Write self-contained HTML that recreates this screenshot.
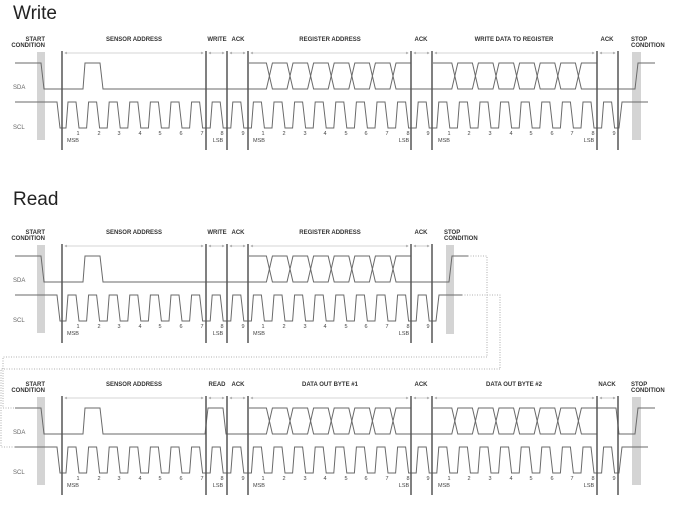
<!DOCTYPE html>
<html><head><meta charset="utf-8"><style>
html,body{margin:0;padding:0;background:#fff;}
svg{display:block;}
.t{font-family:"Liberation Sans",sans-serif;font-size:6px;font-weight:bold;fill:#333;}
.n{font-family:"Liberation Sans",sans-serif;font-size:5.5px;fill:#444;}
.s{font-family:"Liberation Sans",sans-serif;font-size:6px;fill:#666;}
.h{font-family:"Liberation Sans",sans-serif;font-size:19px;fill:#222;}
</style></head><body>
<svg id="g" width="681" height="518" viewBox="0 0 681 518" xmlns="http://www.w3.org/2000/svg">
<g id="d"></g>
<text class="h" x="13" y="19">Write</text>
<text class="h" x="13" y="205">Read</text>

<g transform="translate(0,0)">
<text class="t" x="45" y="41" text-anchor="end">START</text>
<text class="t" x="45" y="47" text-anchor="end">CONDITION</text>
<text class="t" x="134" y="41" text-anchor="middle">SENSOR ADDRESS</text>
<text class="t" x="217" y="41" text-anchor="middle">WRITE</text>
<text class="t" x="238" y="41" text-anchor="middle">ACK</text>
<text class="t" x="330" y="41" text-anchor="middle">REGISTER ADDRESS</text>
<text class="t" x="421" y="41" text-anchor="middle">ACK</text>
<text class="t" x="514" y="41" text-anchor="middle">WRITE DATA TO REGISTER</text>
<text class="t" x="607" y="41" text-anchor="middle">ACK</text>
<text class="t" x="631" y="41">STOP</text>
<text class="t" x="631" y="47">CONDITION</text>
<text class="s" x="13" y="89">SDA</text>
<text class="s" x="13" y="129">SCL</text>
<text class="n" x="78" y="135" text-anchor="middle">1</text><text class="n" x="99" y="135" text-anchor="middle">2</text><text class="n" x="119" y="135" text-anchor="middle">3</text><text class="n" x="140" y="135" text-anchor="middle">4</text><text class="n" x="160" y="135" text-anchor="middle">5</text><text class="n" x="181" y="135" text-anchor="middle">6</text><text class="n" x="202" y="135" text-anchor="middle">7</text><text class="n" x="222" y="135" text-anchor="middle">8</text><text class="n" x="243" y="135" text-anchor="middle">9</text>
<text class="n" x="263" y="135" text-anchor="middle">1</text><text class="n" x="284" y="135" text-anchor="middle">2</text><text class="n" x="305" y="135" text-anchor="middle">3</text><text class="n" x="325" y="135" text-anchor="middle">4</text><text class="n" x="346" y="135" text-anchor="middle">5</text><text class="n" x="366" y="135" text-anchor="middle">6</text><text class="n" x="387" y="135" text-anchor="middle">7</text><text class="n" x="408" y="135" text-anchor="middle">8</text><text class="n" x="428" y="135" text-anchor="middle">9</text>
<text class="n" x="449" y="135" text-anchor="middle">1</text><text class="n" x="469" y="135" text-anchor="middle">2</text><text class="n" x="490" y="135" text-anchor="middle">3</text><text class="n" x="511" y="135" text-anchor="middle">4</text><text class="n" x="531" y="135" text-anchor="middle">5</text><text class="n" x="552" y="135" text-anchor="middle">6</text><text class="n" x="572" y="135" text-anchor="middle">7</text><text class="n" x="593" y="135" text-anchor="middle">8</text><text class="n" x="614" y="135" text-anchor="middle">9</text>
<text class="n" x="73" y="142" text-anchor="middle">MSB</text><text class="n" x="218" y="142" text-anchor="middle">LSB</text>
<text class="n" x="259" y="142" text-anchor="middle">MSB</text><text class="n" x="404" y="142" text-anchor="middle">LSB</text>
<text class="n" x="444" y="142" text-anchor="middle">MSB</text><text class="n" x="589" y="142" text-anchor="middle">LSB</text>
</g>

<g transform="translate(0,193)">
<text class="t" x="45" y="41" text-anchor="end">START</text>
<text class="t" x="45" y="47" text-anchor="end">CONDITION</text>
<text class="t" x="134" y="41" text-anchor="middle">SENSOR ADDRESS</text>
<text class="t" x="217" y="41" text-anchor="middle">WRITE</text>
<text class="t" x="238" y="41" text-anchor="middle">ACK</text>
<text class="t" x="330" y="41" text-anchor="middle">REGISTER ADDRESS</text>
<text class="t" x="421" y="41" text-anchor="middle">ACK</text>
<text class="t" x="444" y="41">STOP</text>
<text class="t" x="444" y="47">CONDITION</text>
<text class="s" x="13" y="89">SDA</text>
<text class="s" x="13" y="129">SCL</text>
<text class="n" x="78" y="135" text-anchor="middle">1</text><text class="n" x="99" y="135" text-anchor="middle">2</text><text class="n" x="119" y="135" text-anchor="middle">3</text><text class="n" x="140" y="135" text-anchor="middle">4</text><text class="n" x="160" y="135" text-anchor="middle">5</text><text class="n" x="181" y="135" text-anchor="middle">6</text><text class="n" x="202" y="135" text-anchor="middle">7</text><text class="n" x="222" y="135" text-anchor="middle">8</text><text class="n" x="243" y="135" text-anchor="middle">9</text>
<text class="n" x="263" y="135" text-anchor="middle">1</text><text class="n" x="284" y="135" text-anchor="middle">2</text><text class="n" x="305" y="135" text-anchor="middle">3</text><text class="n" x="325" y="135" text-anchor="middle">4</text><text class="n" x="346" y="135" text-anchor="middle">5</text><text class="n" x="366" y="135" text-anchor="middle">6</text><text class="n" x="387" y="135" text-anchor="middle">7</text><text class="n" x="408" y="135" text-anchor="middle">8</text><text class="n" x="428" y="135" text-anchor="middle">9</text>
<text class="n" x="73" y="142" text-anchor="middle">MSB</text><text class="n" x="218" y="142" text-anchor="middle">LSB</text>
<text class="n" x="259" y="142" text-anchor="middle">MSB</text><text class="n" x="404" y="142" text-anchor="middle">LSB</text>
</g>

<g transform="translate(0,345)">
<text class="t" x="45" y="41" text-anchor="end">START</text>
<text class="t" x="45" y="47" text-anchor="end">CONDITION</text>
<text class="t" x="134" y="41" text-anchor="middle">SENSOR ADDRESS</text>
<text class="t" x="217" y="41" text-anchor="middle">READ</text>
<text class="t" x="238" y="41" text-anchor="middle">ACK</text>
<text class="t" x="330" y="41" text-anchor="middle">DATA OUT BYTE #1</text>
<text class="t" x="421" y="41" text-anchor="middle">ACK</text>
<text class="t" x="514" y="41" text-anchor="middle">DATA OUT BYTE #2</text>
<text class="t" x="607" y="41" text-anchor="middle">NACK</text>
<text class="t" x="631" y="41">STOP</text>
<text class="t" x="631" y="47">CONDITION</text>
<text class="s" x="13" y="89">SDA</text>
<text class="s" x="13" y="129">SCL</text>
<text class="n" x="78" y="135" text-anchor="middle">1</text><text class="n" x="99" y="135" text-anchor="middle">2</text><text class="n" x="119" y="135" text-anchor="middle">3</text><text class="n" x="140" y="135" text-anchor="middle">4</text><text class="n" x="160" y="135" text-anchor="middle">5</text><text class="n" x="181" y="135" text-anchor="middle">6</text><text class="n" x="202" y="135" text-anchor="middle">7</text><text class="n" x="222" y="135" text-anchor="middle">8</text><text class="n" x="243" y="135" text-anchor="middle">9</text>
<text class="n" x="263" y="135" text-anchor="middle">1</text><text class="n" x="284" y="135" text-anchor="middle">2</text><text class="n" x="305" y="135" text-anchor="middle">3</text><text class="n" x="325" y="135" text-anchor="middle">4</text><text class="n" x="346" y="135" text-anchor="middle">5</text><text class="n" x="366" y="135" text-anchor="middle">6</text><text class="n" x="387" y="135" text-anchor="middle">7</text><text class="n" x="408" y="135" text-anchor="middle">8</text><text class="n" x="428" y="135" text-anchor="middle">9</text>
<text class="n" x="449" y="135" text-anchor="middle">1</text><text class="n" x="469" y="135" text-anchor="middle">2</text><text class="n" x="490" y="135" text-anchor="middle">3</text><text class="n" x="511" y="135" text-anchor="middle">4</text><text class="n" x="531" y="135" text-anchor="middle">5</text><text class="n" x="552" y="135" text-anchor="middle">6</text><text class="n" x="572" y="135" text-anchor="middle">7</text><text class="n" x="593" y="135" text-anchor="middle">8</text><text class="n" x="614" y="135" text-anchor="middle">9</text>
<text class="n" x="73" y="142" text-anchor="middle">MSB</text><text class="n" x="218" y="142" text-anchor="middle">LSB</text>
<text class="n" x="259" y="142" text-anchor="middle">MSB</text><text class="n" x="404" y="142" text-anchor="middle">LSB</text>
<text class="n" x="444" y="142" text-anchor="middle">MSB</text><text class="n" x="589" y="142" text-anchor="middle">LSB</text>
</g>
</svg>
<script>
(function(){
var grp=document.getElementById('d'),NS='http://www.w3.org/2000/svg';
function el(t,a){var e=document.createElementNS(NS,t);for(var k in a)e.setAttribute(k,a[k]);grp.appendChild(e);return e;}
function path(d,c,w,dash){var a={d:d,fill:'none',stroke:c||'#6a6a6a','stroke-width':w||1};if(dash)a['stroke-dasharray']=dash;el('path',a);}
function N(k){return 78+20.6*(k-1);}
function section(o,mode){
  var full=mode!=='r1';
  var vx=full?[62,206,227,248,411,432,597,618]:[62,206,227,248,411,432];
  el('rect',{x:37,y:52+o,width:8,height:88,fill:'#d4d4d4'});
  if(full) el('rect',{x:632,y:52+o,width:9,height:88,fill:'#d4d4d4'});
  else el('rect',{x:446,y:52+o,width:8,height:89,fill:'#d4d4d4'});
  for(var i=0;i<vx.length-1;i++){
    var a=vx[i]+3,b=vx[i+1]-3,y=53+o;
    path('M'+a+','+y+'L'+b+','+y,'#aaa',0.6);
    path('M'+(a+2)+','+(y-1)+'L'+a+','+y+'L'+(a+2)+','+(y+1),'#999',0.6);
    path('M'+(b-2)+','+(y-1)+'L'+b+','+y+'L'+(b-2)+','+(y+1),'#999',0.6);
  }
  var H=102+o,L=128+o,n=full?27:18;
  var d='M15,'+H+'L57,'+H+'L60,'+L;
  for(var k=1;k<=n;k++){var x=N(k);d+='L'+(x-12)+','+L+'L'+(x-10)+','+H+'L'+(x-2)+','+H+'L'+(x+1)+','+L;}
  if(full){d+='L619,'+L+'L622,'+H+'L648,'+H;path(d);}
  else{d+='L436,'+L+'L439,'+H+'L462,'+H;path(d);
    path('M462,'+H+'L500,'+H+'L500,369','#999',0.8,'1,1.5');}
  var T=63+o,B=89+o;
  var s='M15,'+T+'L41,'+T+'L44,'+B+'L83,'+B+'L85,'+T+'L100,'+T+'L103,'+B;
  if(mode==='r2'){s+='L205,'+B+'L208,'+T+'L223,'+T+'L226,'+B;}
  s+='L249,'+B;
  path(s);
  function hex(x0,x1,k0){
    var A='M'+x0+','+T,Bp='M'+x0+','+B;var top=true;
    for(var k=k0;k<k0+7;k++){var c=N(k)+6;
      var y1=top?T:B,y2=top?B:T;
      A+='L'+(c-3)+','+y1+'L'+(c+3)+','+y2;
      Bp+='L'+(c-3)+','+y2+'L'+(c+3)+','+y1;top=!top;}
    A+='L'+x1+','+(top?T:B);Bp+='L'+x1+','+(top?B:T);
    path(A);path(Bp);
  }
  hex(249,411,10);
  if(full){
    hex(433,597,19);
    path('M411,'+B+'L433,'+B);
    if(mode==='r2') path('M597,'+T+'L616,'+T+'L619,'+B+'L635,'+B+'L638,'+T+'L655,'+T);
    else path('M597,'+B+'L635,'+B+'L638,'+T+'L655,'+T);
  } else {
    path('M411,'+B+'L449,'+B+'L452,'+T+'L468,'+T);
    path('M468,'+T+'L487,'+T+'L487,357','#999',0.8,'1,1.5');
  }
  for(var i=0;i<vx.length;i++) path('M'+vx[i]+','+(51+o)+'L'+vx[i]+','+(150+o),'#555',1.5);
}
section(0,'w');section(193,'r1');section(345,'r2');
path('M487,357L3,357L3,408L15,408','#999',0.8,'1,1.5');
path('M500,369L1,369L1,447L15,447','#999',0.8,'1,1.5');
})();
</script>
</body></html>
